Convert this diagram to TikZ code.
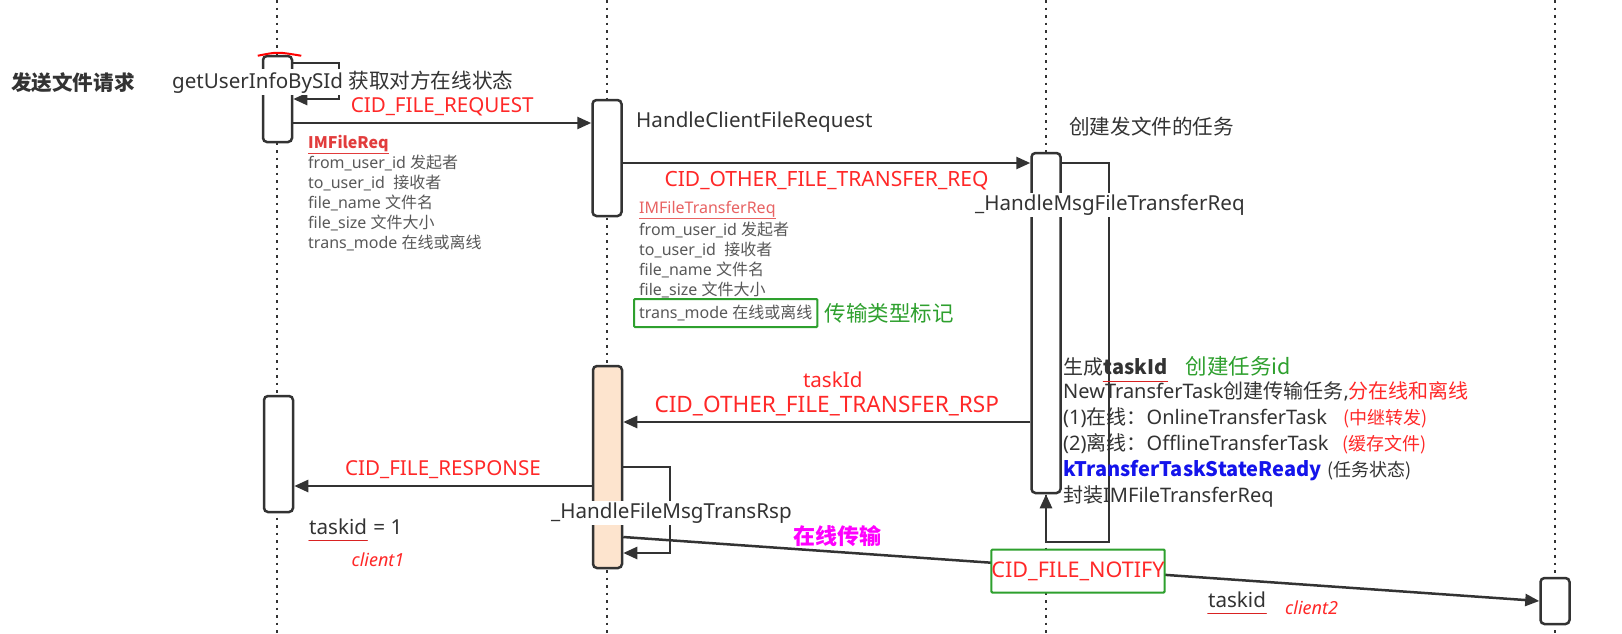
\documentclass[tikz,border=0pt]{standalone}
\usepackage{fontspec}
\setmainfont{Noto Sans}
\newfontfamily\zhfont{Noto Sans CJK SC}
\usetikzlibrary{arrows.meta,positioning}
\usepackage{xcolor}
\definecolor{cInk}{RGB}{51,51,51}
\definecolor{cMsg}{RGB}{255,40,40}
\definecolor{cField}{RGB}{89,89,89}
\definecolor{cTitle}{RGB}{226,60,60}
\definecolor{cPeach}{RGB}{253,228,206}
\definecolor{cMark}{RGB}{46,160,46}
\definecolor{cBlue}{RGB}{20,20,235}
\definecolor{cPink}{RGB}{255,0,255}
\newcommand\zh[1]{{\zhfont #1}}
\newcommand\zhbf[1]{{\zhfont\bfseries #1}}
\newcommand\bigsz{\fontsize{20.6}{26}\selectfont}
\newcommand\blocksz{\fontsize{20}{26}\selectfont}
\newcommand\widesz{\fontsize{22.6}{27}\selectfont}
\newcommand\fieldsz{\fontsize{16}{20}\selectfont}
\newcommand\handsz{\fontsize{18}{26}\selectfont}
\tikzset{
  lifeline/.style={draw=cInk,line width=2.5pt,dash pattern=on 2.5pt off 5pt},
  actbox/.style={rectangle,rounded corners=4pt,draw=cInk,line width=2.5pt,
                 fill=white,minimum width=29pt,inner sep=0pt},
  peachbox/.style={actbox,fill=cPeach},
  msg/.style={draw=cInk,line width=2.5pt,-{Triangle[length=14pt,width=12pt]}},
  txt/.style={font=\bigsz,text=cInk,inner sep=2pt},
  msglbl/.style={font=\bigsz,text=cMsg,inner sep=2pt},
  widelbl/.style={font=\widesz,text=cMsg,inner sep=2pt},
  fieldtxt/.style={font=\fieldsz,text=cField,align=left,inner sep=0pt},
  markbox/.style={draw=cMark,line width=2pt,rounded corners=1pt},
  redmark/.style={draw=cMsg!85!black,line width=1.5pt,line cap=round},
  handnote/.style={font=\handsz\itshape,inner sep=1pt}
}
\begin{document}
\begin{tikzpicture}[x=1pt,y=-1pt]
  \path[use as bounding box,fill=white] (0,0) rectangle (1622,633);

  % lifelines
  \foreach \lx in {277,607,1046,1555}
    \draw[lifeline] (\lx,0) -- (\lx,633);

  % activation boxes
  \node[actbox,minimum height=86pt] (snd) at (277.5,99) {};
  \node[actbox,minimum height=116pt] (srv) at (607,158) {};
  \node[actbox,minimum height=340pt] (task) at (1046,323) {};
  \node[peachbox,minimum height=202pt] (rsp) at (607.5,467) {};
  \node[actbox,minimum height=116pt] (sndback) at (278.5,454) {};
  \node[actbox,minimum height=46pt] (rcv) at (1555,601) {};
  \draw[draw=red,line width=2pt] ([xshift=-4pt,yshift=-1pt]snd.north west)
      .. controls ([yshift=3pt]snd.north) .. ([xshift=8pt,yshift=-1pt]snd.north east);

  % request path
  \draw[msg] (snd.east |- 0,63) -| (339,99) -- (snd.east |- 0,99);
  \draw[msg] (snd.east |- 0,123) -- (srv.west |- 0,123)
      node[midway,above=4pt,msglbl] (freq) {CID\_FILE\_REQUEST};
  \draw[msg] (srv.east |- 0,163) -- (task.west |- 0,163)
      node[midway,below=5pt,widelbl,font=\fontsize{21}{26}\selectfont] (otreq)
      {CID\_OTHER\_FILE\_TRANSFER\_REQ};
  \draw[msg] (task.east |- 0,163) -| (1109,542) -| (task.south);

  % response path
  \draw[msg] (task.west |- 0,422) -- (rsp.east |- 0,422)
      node[midway,above=3pt,widelbl] (otrsp) {CID\_OTHER\_FILE\_TRANSFER\_RSP};
  \node[msglbl,above=3pt of otrsp,xshift=6pt] (rsptid) {taskId};
  \draw[msg] (rsp.west |- 0,486) -- (sndback.east |- 0,486)
      node[midway,above=4pt,msglbl] (fresp) {CID\_FILE\_RESPONSE};
  \draw[msg] (rsp.east |- 0,467) -| (670,553) -- (rsp.east |- 0,553);
  \draw[msg] (rsp.east |- 0,537) -- (rcv.west);
  \node[markbox,msglbl,font=\fontsize{21.6}{26}\selectfont,fill=white,
        minimum width=171pt,minimum height=43pt,inner xsep=0pt]
      (notify) at (1078,571) {CID\_FILE\_NOTIFY};
  \node[font=\fontsize{22}{26}\selectfont,text=cPink] (online) at (837,536) {\zhbf{在线传输}};

  % sender side
  \node[txt,anchor=west] (title) at (9,83) {\zhbf{发送文件请求}};
  \node[txt,fill=white,anchor=west] (getinfo) at (170,82)
      {getUserInfoBySId \zh{获取对方在线状态}};
  \node[fieldtxt,anchor=north west] (reqfields) at (308,135)
      {\textcolor{cTitle}{\underline{\zhbf{IMFileReq}}}\\
       from\_user\_id \zh{发起者}\\
       to\_user\_id\ \ \zh{接收者}\\
       file\_name \zh{文件名}\\
       file\_size \zh{文件大小}\\
       trans\_mode \zh{在线或离线}};
  \node[txt,inner sep=0pt,anchor=west] (tid1) at (309,527) {taskid};
  \node[txt,inner sep=0pt,anchor=base west] (tideq) at ([xshift=6pt]tid1.base east) {= 1};
  \draw[redmark] ([yshift=-6pt]tid1.base west) -- ([yshift=-6pt]tid1.base east);
  \node[handnote,text=cMsg] (cl1) at (378,560) {client1};

  % server side
  \node[txt,anchor=west] (hcfr) at (634,122) {HandleClientFileRequest};
  \node[fieldtxt,anchor=north west] (trfields) at (639,201)
      {\textcolor{cTitle!80}{\underline{IMFileTransferReq}}\\[2pt]
       from\_user\_id \zh{发起者}\\
       to\_user\_id\ \ \zh{接收者}\\
       file\_name \zh{文件名}\\
       file\_size \zh{文件大小}};
  \node[fieldtxt,markbox,inner xsep=5pt,minimum height=28pt,anchor=west]
      (trmode) at (633,313) {trans\_mode \zh{在线或离线}};
  \node[txt,font=\fontsize{21.5}{26}\selectfont,text=cMark,right=4pt of trmode]
      (modenote) {\zh{传输类型标记}};
  \node[txt,fill=white,anchor=west] (hfmtr) at (549,513) {\_HandleFileMsgTransRsp};

  % task side
  \node[txt,anchor=west] (mktask) at (1067,127) {\zh{创建发文件的任务}};
  \node[txt,fill=white,anchor=west] (hmftr) at (973,205) {\_HandleMsgFileTransferReq};
  \node[txt,font=\blocksz,inner sep=0pt,anchor=west] (gen) at (1063,367) {\zh{生成}};
  \node[txt,font=\blocksz,inner sep=0pt,anchor=base west] (tid) at (gen.base east) {\zhbf{taskId}};
  \draw[redmark] ([yshift=-7pt]tid.base west) -- ([yshift=-7pt]tid.base east);
  \node[txt,font=\fontsize{21.5}{26}\selectfont,text=cMark,inner sep=0pt,anchor=base west]
      (tidnote) at ([xshift=18pt]tid.base east) {\zh{创建任务id}};
  \node[txt,font=\blocksz,inner sep=0pt,align=left,anchor=north west] (steps) at (1063,381)
      {NewTransferTask\zh{创建传输任务},\textcolor{cMsg}{\zh{分在线和离线}}\\
       (1)\zh{在线：}OnlineTransferTask\hspace{16pt}{\handsz\color{cMsg}\zh{(中继转发)}}\\
       (2)\zh{离线：}OfflineTransferTask\hspace{14pt}{\handsz\color{cMsg}\zh{(缓存文件)}}\\
       \textcolor{cBlue}{\zhbf{kTransferTaskStateReady}}\hspace{6pt}{\handsz\zh{(任务状态)}}\\
       \zh{封装}IMFileTransferReq};

  % receiver side
  \node[txt,inner sep=0pt] (tid2) at (1237,600) {taskid};
  \draw[redmark] ([yshift=-6pt]tid2.base west) -- ([yshift=-6pt]tid2.base east);
  \node[handnote,text=cMsg,anchor=west] (cl2) at (1284,608) {client2};

\end{tikzpicture}
\end{document}
